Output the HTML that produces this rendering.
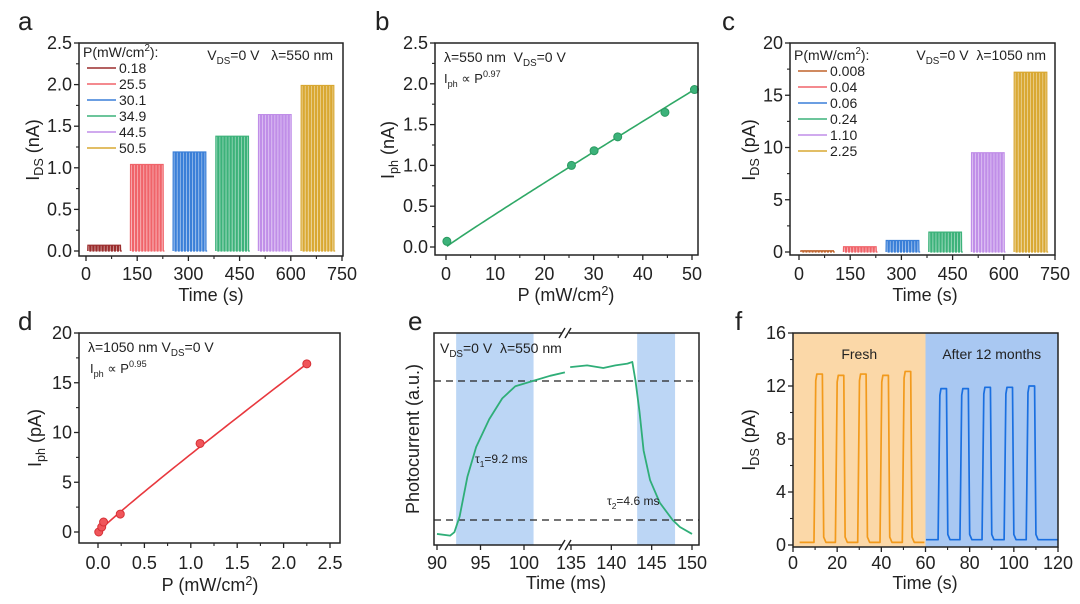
<!DOCTYPE html>
<html><head><meta charset="utf-8"><style>
html,body{margin:0;padding:0;background:#fff;}
svg{display:block;font-family:"Liberation Sans",Arial,sans-serif;}
</style></head><body>
<svg id="fig" width="1080" height="604" viewBox="0 0 1080 604" xmlns="http://www.w3.org/2000/svg"></svg>
<script>
// ---------- data ----------
const aLevels = [0.07, 1.04, 1.19, 1.38, 1.64, 1.99];
const aPowers = ['0.18', '25.5', '30.1', '34.9', '44.5', '50.5'];
const aStarts = [5, 130, 255, 380, 505, 630];
const cLevels = [0.12, 0.5, 1.1, 1.9, 9.5, 17.2];
const cPowers = ['0.008', '0.04', '0.06', '0.24', '1.10', '2.25'];
const cStarts = [5, 130, 255, 380, 505, 630];
const bP = [0.18, 25.5, 30.1, 34.9, 44.5, 50.5];
const bI = [0.07, 1.0, 1.18, 1.35, 1.65, 1.93];
const dP = [0.008, 0.04, 0.06, 0.24, 1.10, 2.25];
const dI = [0.0, 0.5, 1.0, 1.8, 8.9, 16.9];
const eLeftT = [90, 91.5, 92, 92.6, 93.5, 94.5, 96, 97.5, 99, 101, 103, 104.7];
const eLeftV = [0.02, 0.01, 0.03, 0.12, 0.35, 0.52, 0.68, 0.8, 0.87, 0.9, 0.93, 0.95];
const eRightT = [134.9, 137, 139, 140.5, 142, 142.6, 143, 143.5, 144, 144.8, 146, 147.6, 148.5, 150];
const eRightV = [0.98, 0.99, 0.975, 0.99, 1.0, 1.01, 0.9, 0.72, 0.5, 0.33, 0.2, 0.1, 0.06, 0.02];
const fFreshStarts = [9.5, 19.2, 29.3, 39.4, 49.5];
const fFreshPeaks = [12.9, 12.8, 12.9, 12.8, 13.1];
const fAgedStarts = [65.7, 75.6, 85.6, 95.6, 105.6];
const fAgedPeaks = [11.8, 11.8, 11.9, 11.9, 12.0];
const colorsA = ['#9b2d2d', '#f0646a', '#3a7fd8', '#3cb27a', '#c08ee8', '#d9a832'];
const colorsC = ['#c0642c', '#f0646a', '#3a7fd8', '#3cb27a', '#c08ee8', '#d9a832'];

const NS = 'http://www.w3.org/2000/svg';
const svg = document.getElementById('fig');
function el(tag, attrs, parent) {
  const e = document.createElementNS(NS, tag);
  for (const k in attrs) e.setAttribute(k, attrs[k]);
  (parent || svg).appendChild(e);
  return e;
}
function txt(x, y, s, size, anchor, parent) {
  const t = el('text', {x: x, y: y, 'font-size': size, 'text-anchor': anchor || 'start', fill: '#222'}, parent);
  t.innerHTML = s;
  return t;
}
function lin(a0, a1, p0, p1) { return v => p0 + (v - a0) * (p1 - p0) / (a1 - a0); }

function axes(g, box, xs, ys, xticks, yticks, xminor, yminor, tickY, name) {
  for (const v of xticks) {
    const x = xs(v);
    const t = el('line', {x1: x, x2: x, y1: box.b, y2: box.b + 5, stroke: '#222', 'stroke-width': 1.3}, g);
    
    
    const l = txt(x, tickY, v.toFixed(box.xDec || 0), 18, 'middle', g);
    
    
  }
  for (const v of xminor) {
    const x = xs(v);
    const t = el('line', {x1: x, x2: x, y1: box.b, y2: box.b + 3, stroke: '#222', 'stroke-width': 1.1}, g);
    
    
  }
  for (const v of yticks) {
    const y = ys(v);
    const t = el('line', {x1: box.l - 5, x2: box.l, y1: y, y2: y, stroke: '#222', 'stroke-width': 1.3}, g);
    
    
    const l = txt(box.l - 7, y + 6, v.toFixed(box.yDec || 0), 18, 'end', g);
    
    
  }
  for (const v of yminor) {
    const y = ys(v);
    const t = el('line', {x1: box.l - 3, x2: box.l, y1: y, y2: y, stroke: '#222', 'stroke-width': 1.1}, g);
    
    
  }
  const r = el('rect', {x: box.l, y: box.t, width: box.r - box.l, height: box.b - box.t, fill: 'none', stroke: '#222', 'stroke-width': 1.5}, g);
  
  
}
function ytitle(g, x, y, html, name) {
  const t = el('text', {x: 0, y: 0, 'font-size': 18, 'text-anchor': 'middle', fill: '#222', transform: 'translate(' + x + ',' + y + ') rotate(-90)'}, g);
  t.innerHTML = html;
  
  
}
function letter(x, y, s) {
  const t = txt(x, y, s, 26, 'start');
  
  
}
function range(a, b, s) { const r = []; for (let v = a; v <= b + 1e-9; v += s) r.push(+v.toFixed(4)); return r; }
const SUB = s => '<tspan font-size="0.7em" baseline-shift="-4">' + s + '</tspan>';
const SUP = s => '<tspan font-size="0.7em" baseline-shift="6">' + s + '</tspan>';

function pulsePanel(name, box, xs, ys, starts, levels, colors, baseline) {
  const g = el('g', {});
  
  
  starts.forEach((s, i) => {
    let d = 'M' + xs(s) + ',' + ys(baseline);
    for (let k = 0; k < 11; k++) {
      const t0 = s + k * 9;
      d += ' L' + xs(t0) + ',' + ys(baseline) + ' L' + xs(t0 + 0.5) + ',' + ys(levels[i]) + ' L' + xs(t0 + 6) + ',' + ys(levels[i]) + ' L' + xs(t0 + 6.5) + ',' + ys(baseline);
    }
    d += ' L' + xs(s + 100) + ',' + ys(baseline);
    const p = el('path', {d: d, fill: colors[i], 'fill-opacity': 0.45, stroke: colors[i], 'stroke-width': 1.2}, g);
    
    
  });
}
function legend(name, x, y0, dy, labels, colors) {
  const g = el('g', {});
  
  
  const t = txt(x - 4, y0, 'P(mW/cm' + SUP('2') + '):', 14, 'start', g);
  
  
  labels.forEach((lab, i) => {
    const y = y0 + dy * (i + 1);
    const l = el('line', {x1: x, x2: x + 29, y1: y - 5, y2: y - 5, stroke: colors[i], 'stroke-width': 1.6}, g);
    
    
    const tt = txt(x + 32, y, lab, 14, 'start', g);
    
    
  });
}

// ---------- panel a ----------
{
  const box = {l: 79, r: 343, t: 43, b: 256, yDec: 1};
  const xs = lin(0, 750, 86, 342), ys = lin(0, 2.5, 251, 43);
  const g = el('g', {});  
  pulsePanel('panel-a', box, xs, ys, aStarts, aLevels, colorsA, 0);
  axes(g, box, xs, ys, range(0, 750, 150), range(0, 2.5, 0.5), range(75, 675, 150), range(0.25, 2.25, 0.5), 280, 'panel-a');
  legend('panel-a', 87, 57, 16, aPowers, colorsA);
  const an = txt(333, 60, 'V' + SUB('DS') + '=0 V &#160; λ=550 nm', 14, 'end', g);
   
  ytitle(g, 39, 150, 'I' + SUB('DS') + ' (nA)', 'panel-a-y-axis-title');
  const xt = txt(211, 301, 'Time (s)', 18, 'middle', g);
   
  letter(18, 30, 'a');
}
// ---------- panel b ----------
{
  const box = {l: 435, r: 698, t: 43, b: 255, yDec: 1};
  const xs = lin(0, 50, 446, 692), ys = lin(0, 2.5, 247, 43);
  const g = el('g', {});  
  const a = bI[5] / Math.pow(bP[5], 0.97);
  let d = '';
  for (let p = 0.18; p <= 50.6; p += 0.5) d += (d ? ' L' : 'M') + xs(p) + ',' + ys(a * Math.pow(p, 0.97));
  const fl = el('path', {d: d, fill: 'none', stroke: '#2fa866', 'stroke-width': 1.6}, g);
   
  bP.forEach((p, i) => {
    const c = el('circle', {cx: xs(p), cy: ys(bI[i]), r: 4, fill: '#3cb27a', stroke: '#2a9a60', 'stroke-width': 1}, g);
     
  });
  axes(g, box, xs, ys, range(0, 50, 10), range(0, 2.5, 0.5), range(5, 45, 10), range(0.25, 2.25, 0.5), 280, 'panel-b');
  const a1 = txt(444, 62, 'λ=550 nm &#160;V' + SUB('DS') + '=0 V', 14, 'start', g);
   
  const a2 = txt(444, 83, 'I' + SUB('ph') + ' ∝ P' + SUP('0.97'), 13, 'start', g);
   
  ytitle(g, 394, 150, 'I' + SUB('ph') + ' (nA)', 'panel-b-y-axis-title');
  const xt = txt(566, 301, 'P (mW/cm' + SUP('2') + ')', 18, 'middle', g);
   
  letter(375, 30, 'b');
}
// ---------- panel c ----------
{
  const box = {l: 790, r: 1055, t: 43, b: 255};
  const xs = lin(0, 750, 799, 1055), ys = lin(0, 20, 252, 43);
  const g = el('g', {});  
  pulsePanel('panel-c', box, xs, ys, cStarts, cLevels, colorsC, 0);
  axes(g, box, xs, ys, range(0, 750, 150), range(0, 20, 5), range(75, 675, 150), range(2.5, 17.5, 5), 280, 'panel-c');
  legend('panel-c', 798, 60, 16, cPowers, colorsC);
  const an = txt(1046, 60, 'V' + SUB('DS') + '=0 V &#160;λ=1050 nm', 14, 'end', g);
   
  ytitle(g, 755, 150, 'I' + SUB('DS') + ' (pA)', 'panel-c-y-axis-title');
  const xt = txt(925, 301, 'Time (s)', 18, 'middle', g);
   
  letter(722, 30, 'c');
}
// ---------- panel d ----------
{
  const box = {l: 79, r: 340, t: 333, b: 543, xDec: 1};
  const xs = lin(0, 2.5, 98, 330), ys = lin(0, 20, 532, 333);
  const g = el('g', {});  
  const a = dI[5] / Math.pow(dP[5], 0.95);
  let d = '';
  for (let p = 0.06; p <= 2.26; p += 0.04) d += (d ? ' L' : 'M') + xs(p) + ',' + ys(a * Math.pow(p, 0.95));
  const fl = el('path', {d: d, fill: 'none', stroke: '#e8383e', 'stroke-width': 1.6}, g);
   
  dP.forEach((p, i) => {
    const c = el('circle', {cx: xs(p), cy: ys(dI[i]), r: 4, fill: '#f0555a', stroke: '#d63036', 'stroke-width': 1}, g);
     
  });
  axes(g, box, xs, ys, range(0, 2.5, 0.5), range(0, 20, 5), range(0.25, 2.25, 0.5), range(2.5, 17.5, 5), 569, 'panel-d');
  const a1 = txt(88, 352, 'λ=1050 nm V' + SUB('DS') + '=0 V', 14, 'start', g);
   
  const a2 = txt(90, 373, 'I' + SUB('ph') + ' ∝ P' + SUP('0.95'), 13, 'start', g);
   
  ytitle(g, 41, 438, 'I' + SUB('ph') + ' (pA)', 'panel-d-y-axis-title');
  const xt = txt(210, 591, 'P (mW/cm' + SUP('2') + ')', 18, 'middle', g);
   
  letter(18, 330, 'd');
}
// ---------- panel e ----------
{
  const box = {l: 434, r: 699, t: 333, b: 545};
  const xl = lin(90, 100, 437, 524), xr = lin(135, 150, 571, 692);
  const ys = lin(0, 1, 537.4, 363.65);
  const g = el('g', {});  
  const b1 = el('rect', {x: xl(92.2), y: box.t, width: xl(101.1) - xl(92.2), height: box.b - box.t, fill: '#bcd6f5'}, g);
   
  const b2 = el('rect', {x: xr(143.2), y: box.t, width: xr(147.9) - xr(143.2), height: box.b - box.t, fill: '#bcd6f5'}, g);
   
  [0.9, 0.1].forEach(v => {
    const l = el('line', {x1: box.l, x2: box.r, y1: ys(v), y2: ys(v), stroke: '#222', 'stroke-width': 1.3, 'stroke-dasharray': '7,5'}, g);
     
  });
  let d1 = '';
  eLeftT.forEach((t, i) => { d1 += (i ? ' L' : 'M') + xl(t) + ',' + ys(eLeftV[i]); });
  const p1 = el('path', {d: d1, fill: 'none', stroke: '#2fae78', 'stroke-width': 1.8, 'stroke-linejoin': 'round'}, g);
   
  let d2 = '';
  eRightT.forEach((t, i) => { d2 += (i ? ' L' : 'M') + xr(t) + ',' + ys(eRightV[i]); });
  const p2 = el('path', {d: d2, fill: 'none', stroke: '#2fae78', 'stroke-width': 1.8, 'stroke-linejoin': 'round'}, g);
   
  const ticks = [[xl, 90], [xl, 95], [xl, 100], [xr, 135], [xr, 140], [xr, 145], [xr, 150]];
  ticks.forEach(([f, v]) => {
    const t = el('line', {x1: f(v), x2: f(v), y1: box.b, y2: box.b + 5, stroke: '#222', 'stroke-width': 1.3}, g);
     
    const l = txt(f(v), 569, String(v), 18, 'middle', g);
     
  });
  const fr = el('rect', {x: box.l, y: box.t, width: box.r - box.l, height: box.b - box.t, fill: 'none', stroke: '#222', 'stroke-width': 1.5}, g);
   
  [box.t, box.b].forEach(y => {
    const bk = el('rect', {x: 562, y: y - 4, width: 7, height: 8, fill: '#fff'}, g);
     
    const s1 = el('path', {d: 'M559,' + (y + 5) + ' L565,' + (y - 5) + ' M565,' + (y + 5) + ' L571,' + (y - 5), stroke: '#222', 'stroke-width': 1.4, fill: 'none'}, g);
     
  });
  const an = txt(440, 353, 'V' + SUB('DS') + '=0 V &#160;λ=550 nm', 14, 'start', g);
   
  const t1 = txt(475, 463, 'τ' + SUB('1') + '=9.2 ms', 12, 'start', g);
   
  const t2 = txt(607, 505, 'τ' + SUB('2') + '=4.6 ms', 12, 'start', g);
   
  ytitle(g, 419, 439, 'Photocurrent (a.u.)', 'panel-e-y-axis-title');
  const xt = txt(566, 589, 'Time (ms)', 18, 'middle', g);
   
  letter(408, 330, 'e');
}
// ---------- panel f ----------
{
  const box = {l: 793, r: 1058, t: 333, b: 547};
  const xs = lin(0, 120, 793, 1058), ys = lin(0, 16, 545, 333);
  const g = el('g', {});  
  const r1 = el('rect', {x: xs(0), y: box.t, width: xs(60) - xs(0), height: box.b - box.t, fill: '#fbd8a8'}, g);
   
  const r2 = el('rect', {x: xs(60), y: box.t, width: xs(120) - xs(60), height: box.b - box.t, fill: '#a9c8f2'}, g);
   
  function train(starts, peaks, base, t0, t1, col, nm) {
    let d = 'M' + xs(t0) + ',' + ys(base);
    starts.forEach((s, i) => {
      d += ' L' + xs(s) + ',' + ys(base) + ' L' + xs(s + 0.8) + ',' + ys(peaks[i] - 0.5) + ' L' + xs(s + 1.3) + ',' + ys(peaks[i]) +
           ' L' + xs(s + 3.8) + ',' + ys(peaks[i]) + ' L' + xs(s + 4.4) + ',' + ys(base + 0.4) + ' L' + xs(s + 5.4) + ',' + ys(base);
    });
    d += ' L' + xs(t1) + ',' + ys(base);
    const p = el('path', {d: d, fill: 'none', stroke: col, 'stroke-width': 1.7, 'stroke-linejoin': 'round'}, g);
     
  }
  train(fFreshStarts, fFreshPeaks, 0.2, 3, 59.5, '#f29a1c', 'panel-f-fresh-trace');
  train(fAgedStarts, fAgedPeaks, 0.4, 60.2, 120, '#1a6fe0', 'panel-f-aged-trace');
  axes(g, box, xs, ys, range(0, 120, 20), range(0, 16, 4), range(10, 110, 20), range(2, 14, 4), 569, 'panel-f');
  const l1 = txt(xs(30), 359, 'Fresh', 14, 'middle', g);
   
  const l2 = txt(xs(90), 359, 'After 12 months', 14, 'middle', g);
   
  ytitle(g, 755, 440, 'I' + SUB('DS') + ' (pA)', 'panel-f-y-axis-title');
  const xt = txt(925, 589, 'Time (s)', 18, 'middle', g);
   
  letter(735, 330, 'f');
}
</script>
</body></html>
